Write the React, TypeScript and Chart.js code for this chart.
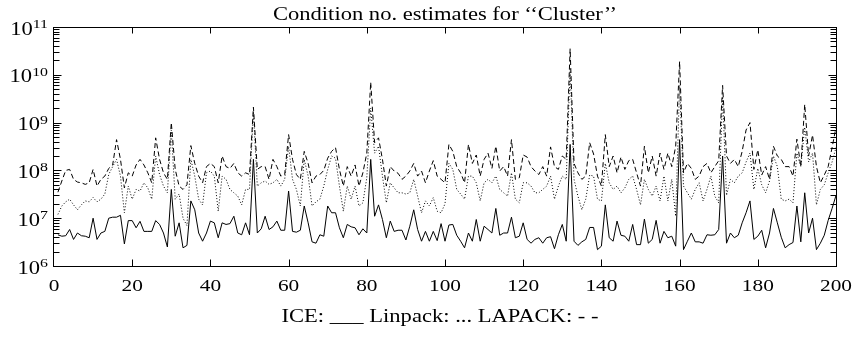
import React, { useEffect, useRef } from "react";
import { Chart, registerables } from "chart.js";

Chart.register(...registerables);

// ICE condition-number estimates, problems 1..200
const ICE = [
  4.5e6, 4.2e6, 4.3e6, 5.8e6, 3.6e6, 4.9e6, 4.3e6, 4.2e6, 3.9e6, 1.0e7,
  3.6e6, 4.9e6, 5.3e6, 1.0e7, 1.05e7, 1.05e7, 1.15e7, 2.9e6, 8.9e6, 8.9e6,
  6.3e6, 8.6e6, 5.3e6, 5.3e6, 5.3e6, 8.9e6, 7.4e6, 4.9e6, 2.5e6, 4.0e7,
  4.2e6, 8.0e6, 2.4e6, 2.7e6, 2.3e7, 1.5e7, 4.9e6, 3.3e6, 4.9e6, 8.7e6,
  8.0e6, 3.9e6, 8.0e6, 7.4e6, 7.7e6, 1.1e7, 4.9e6, 4.5e6, 8.0e6, 4.5e6,
  1.7e8, 4.9e6, 6.0e6, 1.1e7, 5.8e6, 6.6e6, 8.7e6, 5.6e6, 5.6e6, 3.7e7,
  5.3e6, 5.1e6, 5.6e6, 1.8e7, 8.0e6, 3.2e6, 3.0e6, 4.5e6, 4.2e6, 1.8e7,
  1.3e7, 1.3e7, 6.3e6, 3.9e6, 7.4e6, 6.6e6, 6.3e6, 4.5e6, 6.0e6, 4.9e6,
  1.7e8, 1.1e7, 1.9e7, 9.4e6, 3.9e6, 8.7e6, 5.3e6, 5.6e6, 5.6e6, 3.5e6,
  6.8e6, 1.5e7, 5.8e6, 3.3e6, 5.3e6, 3.3e6, 5.3e6, 3.4e6, 7.7e6, 3.3e6,
  7.2e6, 7.4e6, 4.4e6, 3.3e6, 2.4e6, 4.9e6, 3.3e6, 9.4e6, 3.3e6, 6.8e6,
  5.8e6, 4.9e6, 1.6e7, 4.4e6, 4.9e6, 4.9e6, 1.05e7, 3.9e6, 4.2e6, 8.0e6,
  3.6e6, 3.0e6, 3.6e6, 3.9e6, 3.0e6, 3.9e6, 4.1e6, 2.3e6, 4.5e6, 7.4e6,
  3.3e6, 3.5e8, 3.3e6, 2.7e6, 3.2e6, 3.6e6, 6.4e6, 6.4e6, 2.2e6, 2.6e6,
  1.9e7, 3.9e6, 3.3e6, 8.7e6, 4.4e6, 4.2e6, 3.3e6, 7.4e6, 2.8e6, 2.8e6,
  9.6e6, 3.0e6, 3.6e6, 9.0e6, 3.0e6, 5.3e6, 3.9e6, 4.2e6, 2.6e6, 4.4e8,
  2.2e6, 3.3e6, 4.9e6, 3.2e6, 3.2e6, 3.0e6, 4.5e6, 4.4e6, 4.5e6, 5.8e6,
  2.0e8, 3.0e6, 4.9e6, 3.9e6, 4.4e6, 8.0e6, 1.3e7, 2.3e7, 3.6e6, 4.2e6,
  5.6e6, 2.4e6, 4.9e6, 1.6e7, 8.0e6, 4.0e6, 2.4e6, 2.8e6, 3.1e6, 1.8e7,
  3.2e6, 3.4e7, 4.9e6, 1.0e7, 2.2e6, 3.0e6, 4.4e6, 9.0e6, 1.6e7, 3.0e7,
];

// Linpack estimates
const LINPACK = [
  1.2e7, 1.8e7, 2.2e7, 2.5e7, 1.9e7, 1.5e7, 1.9e7, 2.3e7, 2.2e7, 2.7e7,
  2.2e7, 2.5e7, 3.2e7, 8.2e7, 1.2e8, 1.7e8, 7.6e7, 1.3e7, 4.7e7, 2.5e7,
  4.0e7, 3.7e7, 5.5e7, 4.3e7, 2.5e7, 2.0e8, 8.2e7, 4.7e7, 3.4e7, 7.0e8,
  2.5e7, 3.2e7, 1.0e7, 7.0e6, 1.7e8, 7.6e7, 2.5e7, 1.9e7, 8.9e7, 9.7e7,
  7.6e7, 1.4e7, 7.6e7, 6.5e7, 4.0e7, 3.4e7, 2.9e7, 1.9e7, 4.0e7, 4.0e7,
  1.7e9, 4.7e7, 5.5e7, 6.0e7, 5.1e7, 5.5e7, 6.5e7, 4.7e7, 6.5e7, 3.2e8,
  6.5e7, 4.0e7, 1.8e7, 1.7e8, 7.6e7, 1.8e7, 2.2e7, 2.5e7, 4.7e7, 1.05e8,
  2.0e8, 1.8e8, 4.7e7, 1.4e7, 4.7e7, 2.5e7, 4.7e7, 1.8e7, 2.1e7, 7.0e7,
  2.0e9, 2.3e8, 3.2e8, 7.6e7, 2.1e7, 5.5e7, 4.3e7, 3.4e7, 3.4e7, 3.2e7,
  3.4e7, 6.5e7, 2.9e7, 1.3e7, 2.3e7, 1.8e7, 2.7e7, 1.4e7, 1.3e7, 2.0e7,
  1.4e8, 1.05e8, 4.0e7, 3.2e7, 2.5e7, 7.6e7, 7.6e7, 5.5e7, 2.3e7, 5.5e7,
  6.5e7, 5.5e7, 7.6e7, 4.0e7, 3.4e7, 2.9e7, 8.9e7, 2.5e7, 2.1e7, 5.5e7,
  5.5e7, 4.7e7, 3.4e7, 3.4e7, 4.0e7, 4.7e7, 7.6e7, 2.5e7, 4.7e7, 7.6e7,
  6.5e7, 1.3e10, 6.5e7, 2.9e7, 1.5e7, 2.5e7, 8.0e7, 7.6e7, 2.5e7, 2.3e7,
  1.4e8, 5.5e7, 4.0e7, 4.7e7, 3.4e7, 4.3e7, 6.5e7, 7.6e7, 4.0e7, 1.9e7,
  6.5e7, 4.0e7, 2.9e7, 4.7e7, 2.3e7, 7.6e7, 2.3e7, 6.5e7, 1.1e7, 6.0e9,
  4.7e7, 3.4e7, 2.5e7, 4.0e7, 5.5e7, 2.3e7, 4.0e7, 7.6e7, 2.9e7, 2.1e7,
  3.5e9, 3.0e7, 6.5e7, 5.5e7, 7.6e7, 8.9e7, 1.5e8, 2.3e8, 4.0e7, 1.1e8,
  5.0e7, 3.4e7, 6.0e7, 2.0e8, 1.2e8, 2.5e7, 2.3e7, 2.5e7, 2.1e7, 2.3e8,
  1.2e8, 8.0e8, 1.5e8, 2.3e8, 1.9e7, 4.0e7, 5.0e7, 8.9e7, 1.5e8, 3.0e8,
];

// LAPACK estimates
const LAPACK = [
  3.5e7, 6.0e7, 1.0e8, 1.05e8, 6.5e7, 5.7e7, 5.5e7, 5.1e7, 5.5e7, 1.05e8,
  4.7e7, 6.5e7, 7.6e7, 1.1e8, 1.3e8, 4.4e8, 1.7e8, 4.3e7, 8.9e7, 7.6e7,
  1.3e8, 1.7e8, 1.3e8, 8.9e7, 5.5e7, 4.8e8, 1.7e8, 8.9e7, 6.5e7, 1.0e9,
  1.05e8, 4.7e7, 4.0e7, 5.0e7, 3.3e8, 1.4e8, 7.6e7, 5.5e7, 1.2e8, 1.4e8,
  1.2e8, 5.5e7, 2.0e8, 1.2e8, 1.1e8, 1.4e8, 8.9e7, 7.6e7, 8.9e7, 8.2e7,
  2.1e9, 1.05e8, 1.2e8, 1.2e8, 6.5e7, 1.7e8, 1.2e8, 7.6e7, 8.2e7, 5.6e8,
  1.7e8, 8.2e7, 6.5e7, 2.5e8, 1.4e8, 5.5e7, 7.6e7, 8.2e7, 1.0e8, 1.8e8,
  2.5e8, 3.0e8, 1.05e8, 4.7e7, 1.2e8, 7.6e7, 1.3e8, 4.7e7, 8.9e7, 2.3e8,
  7.0e9, 3.8e8, 4.8e8, 1.7e8, 4.7e7, 1.2e8, 9.7e7, 8.7e7, 6.5e7, 7.6e7,
  9.7e7, 1.4e8, 7.6e7, 9.7e7, 5.5e7, 9.7e7, 1.6e8, 7.6e7, 6.5e7, 5.5e7,
  3.5e8, 2.5e8, 1.2e8, 8.9e7, 5.5e7, 3.5e8, 1.4e8, 2.1e8, 7.6e7, 1.7e8,
  2.3e8, 1.1e8, 3.2e8, 9.7e7, 1.2e8, 7.6e7, 4.4e8, 6.5e7, 7.0e7, 2.1e8,
  1.9e8, 1.2e8, 9.7e7, 8.2e7, 1.2e8, 7.6e7, 3.1e8, 1.2e8, 1.05e8, 2.0e8,
  1.7e8, 3.5e10, 1.4e8, 8.9e7, 6.5e7, 7.6e7, 3.8e8, 2.2e8, 7.6e7, 4.7e7,
  5.6e8, 1.2e8, 2.0e8, 8.9e7, 1.9e8, 1.05e8, 1.6e8, 1.7e8, 8.9e7, 4.7e7,
  3.2e8, 8.9e7, 2.0e8, 7.6e7, 2.3e8, 1.05e8, 2.3e8, 1.2e8, 3.2e8, 1.9e10,
  8.9e7, 1.4e8, 1.1e8, 6.5e7, 7.6e7, 1.2e8, 1.4e8, 8.9e7, 1.2e8, 1.6e8,
  6.0e9, 2.0e8, 1.4e8, 1.7e8, 1.2e8, 2.5e8, 7.0e8, 1.0e9, 1.05e8, 2.7e8,
  8.0e7, 1.2e8, 6.5e7, 3.2e8, 2.0e8, 1.7e8, 1.2e8, 1.2e8, 7.6e7, 4.5e8,
  1.2e8, 2.4e9, 2.0e8, 5.5e8, 1.2e8, 5.5e7, 8.0e7, 1.2e8, 3.0e8, 8.0e8,
];

const X_TICKS = [0, 20, 40, 60, 80, 100, 120, 140, 160, 180, 200];
const Y_EXPONENTS = [6, 7, 8, 9, 10, 11];
const TITLE = "Condition no. estimates for \u2018\u2018Cluster\u2019\u2019";
const CAPTION = "ICE: ___ Linpack: ... LAPACK: - -";

const FONT = '"Liberation Serif", "Times New Roman", serif';
const SX = 1.22; // horizontal stretch of the reference's lettering

function drawText(
  ctx: CanvasRenderingContext2D,
  text: string,
  x: number,
  y: number,
  size: number,
  align: "left" | "center" | "right"
) {
  ctx.save();
  ctx.font = `${size}px ${FONT}`;
  const w = ctx.measureText(text).width * SX;
  const x0 = align === "center" ? x - w / 2 : align === "right" ? x - w : x;
  ctx.translate(x0, y);
  ctx.scale(SX, 1);
  ctx.textAlign = "left";
  ctx.textBaseline = "alphabetic";
  ctx.fillStyle = "#000";
  ctx.fillText(text, 0, 0);
  ctx.restore();
  return w;
}

function textWidth(ctx: CanvasRenderingContext2D, text: string, size: number) {
  ctx.save();
  ctx.font = `${size}px ${FONT}`;
  const w = ctx.measureText(text).width * SX;
  ctx.restore();
  return w;
}

const framePlugin = {
  id: "frameAndText",
  afterDraw(chart: any) {
    const ctx: CanvasRenderingContext2D = chart.ctx;
    const ca = chart.chartArea;
    const xs = chart.scales.x;
    const ys = chart.scales.y;
    const L = Math.round(ca.left) - 0.5;
    const R = Math.round(ca.right) + 0.5;
    const T = Math.round(ca.top) + 0.5;
    const B = Math.round(ca.bottom) + 0.5;

    ctx.save();
    ctx.strokeStyle = "#000";
    ctx.lineWidth = 1;
    ctx.setLineDash([]);
    ctx.strokeRect(L, T, R - L, B - T);

    ctx.beginPath();
    // x ticks (inward, top and bottom)
    for (const v of X_TICKS) {
      const px = Math.round(xs.getPixelForValue(v)) + 0.5;
      if (v !== 0 && v !== 200) {
        ctx.moveTo(px, B);
        ctx.lineTo(px, B - 7);
        ctx.moveTo(px, T);
        ctx.lineTo(px, T + 6);
      }
    }
    // y ticks (log, inward, both sides)
    for (const e of Y_EXPONENTS) {
      for (let m = 1; m <= 9; m++) {
        const v = m * Math.pow(10, e);
        if (v > 1e11 * 1.0001) break;
        const py = Math.round(ys.getPixelForValue(v)) + 0.5;
        if (py <= T + 0.1 || py >= B - 0.1) continue;
        const len = m === 1 ? 8 : 6;
        ctx.moveTo(L, py);
        ctx.lineTo(L + len, py);
        ctx.moveTo(R, py);
        ctx.lineTo(R - len, py);
      }
    }
    ctx.stroke();
    ctx.restore();

    // x tick labels
    for (const v of X_TICKS) {
      const px = xs.getPixelForValue(v);
      drawText(ctx, String(v), px, B + 24.5, 17.5, "center");
    }
    // y tick labels: 10^e
    for (const e of Y_EXPONENTS) {
      const py = ys.getPixelForValue(Math.pow(10, e));
      const expStr = String(e);
      const we = textWidth(ctx, expStr, 13);
      const right = 48;
      drawText(ctx, expStr, right, py + 1, 13, "right");
      drawText(ctx, "10", right - we, py + 7.5, 18.5, "right");
    }
    // title and caption
    const cx = (ca.left + ca.right) / 2;
    drawText(ctx, TITLE, cx, 20, 18.5, "center");
    drawText(ctx, CAPTION, cx - 5, 322, 18.5, "center");
  },
};

export default function App() {
  const ref = useRef<HTMLCanvasElement>(null);
  useEffect(() => {
    const canvas = ref.current;
    if (!canvas) return;
    const mk = (arr: number[]) => arr.map((v, i) => ({ x: i + 1, y: v }));
    const chart = new Chart(canvas, {
      type: "line",
      data: {
        datasets: [
          {
            label: "ICE",
            data: mk(ICE),
            borderColor: "#000",
            borderWidth: 1,
            pointRadius: 0,
            tension: 0,
          },
          {
            label: "Linpack",
            data: mk(LINPACK),
            borderColor: "#000",
            borderWidth: 1,
            borderDash: [1, 2],
            pointRadius: 0,
            tension: 0,
          },
          {
            label: "LAPACK",
            data: mk(LAPACK),
            borderColor: "#000",
            borderWidth: 1,
            borderDash: [5, 3],
            pointRadius: 0,
            tension: 0,
          },
        ],
      },
      options: {
        responsive: false,
        animation: false,
        devicePixelRatio: 1,
        events: [],
        layout: { padding: { top: 27, right: 26, left: 0, bottom: 0 } },
        plugins: {
          legend: { display: false },
          title: { display: false },
          tooltip: { enabled: false },
        },
        scales: {
          x: {
            type: "linear",
            min: 0,
            max: 200,
            ticks: { display: false, stepSize: 20 },
            grid: { display: false },
            border: { display: false },
            afterFit: (s: any) => {
              s.height = 72;
            },
          },
          y: {
            type: "logarithmic",
            min: 1e6,
            max: 1e11,
            ticks: { display: false },
            grid: { display: false },
            border: { display: false },
            afterFit: (s: any) => {
              s.width = 54;
            },
          },
        },
      } as any,
      plugins: [framePlugin],
    });
    return () => chart.destroy();
  }, []);
  return (
    <div
      style={{
        position: "absolute",
        left: 0,
        top: 0,
        width: 862,
        height: 338,
        background: "#fff",
      }}
    >
      <canvas ref={ref} width={862} height={338} style={{ display: "block" }} />
    </div>
  );
}
